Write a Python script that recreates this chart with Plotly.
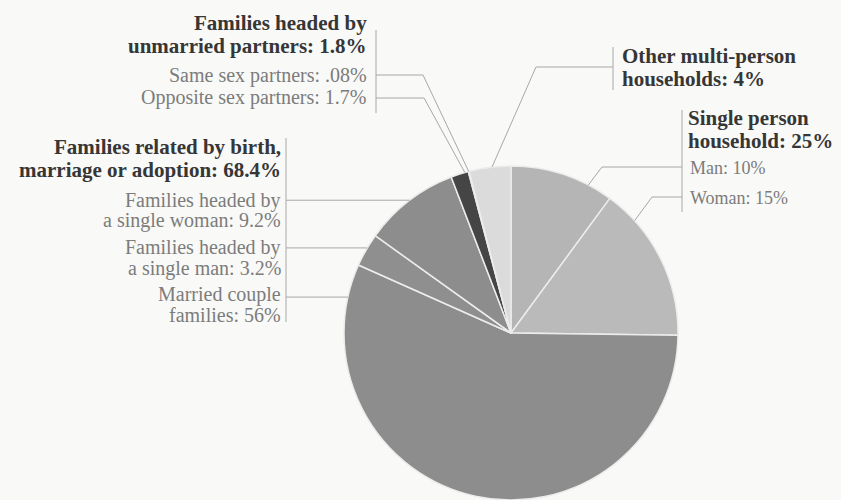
import math
import plotly.graph_objects as go

W, H = 841, 500

# ---- data (clockwise from 12 o'clock) ----
slice_names = ["Man", "Woman", "Married couple families", "Families headed by a single man",
               "Families headed by a single woman", "Opposite sex partners", "Same sex partners",
               "Other multi-person households"]
slice_values = [10, 15, 56, 3.2, 9.2, 1.7, 0.08, 4]
slice_colors = ["#b5b5b5", "#bababa", "#8d8d8d", "#8f8f8f", "#8d8d8d", "#454545", "#9a9a9a", "#dbdbdb"]

# ---- pie geometry (pixels) ----
PIE_X0, PIE_X1 = 344, 678
PIE_Y0, PIE_Y1 = 0.0, 0.668
cx = (PIE_X0 + PIE_X1) / 2
cy = H - (PIE_Y0 + PIE_Y1) / 2 * H
R = (PIE_X1 - PIE_X0) / 2

def px(x):
    return x / W

def py(y):
    return 1 - y / H

total = sum(slice_values)
starts = []
acc = 0
for v in slice_values:
    starts.append(acc)
    acc += v

def edge_point(i, t):
    frac = (starts[i] + t * slice_values[i]) / total
    a = 2 * math.pi * frac
    return cx + R * math.sin(a), cy - R * math.cos(a)

fig = go.Figure()
fig.add_trace(go.Pie(
    labels=slice_names, values=slice_values, sort=False, direction="clockwise",
    rotation=0, textinfo="none", hoverinfo="label+value",
    marker=dict(colors=slice_colors, line=dict(color="#ececec", width=1.5)),
    domain=dict(x=[px(PIE_X0), px(PIE_X1)], y=[PIE_Y0, PIE_Y1]),
    showlegend=False,
))

FONT = "Liberation Serif"
BOLD_C = "#363636"
REG_C = "#7c7c7c"
LINE_C = "#a8a8a8"
annotations = []
shapes = []

def text(x, y, s, bold, anchor, size=None):
    if bold:
        s = "<b>" + s + "</b>"
        sz = size or 21
        col = BOLD_C
    else:
        sz = size or 20
        col = REG_C
    annotations.append(dict(x=px(x), y=py(y), xref="paper", yref="paper", text=s,
                            showarrow=False, xanchor=anchor, yanchor="middle",
                            font=dict(family=FONT, size=sz, color=col)))

def poly(pts):
    path = "M " + " L ".join(f"{px(a)},{py(b)}" for a, b in pts)
    shapes.append(dict(type="path", xref="paper", yref="paper", path=path,
                       line=dict(color=LINE_C, width=1)))

def vbar(x, y0, y1):
    poly([(x, y0), (x, y1)])

# Group 1: unmarried partners
text(369, 23, "Families headed by", True, "right")
text(369, 46, "unmarried partners: 1.8%", True, "right")
text(369, 75, "Same sex partners: .08%", False, "right")
text(369, 98, "Opposite sex partners: 1.7%", False, "right")
vbar(376, 30, 113)
poly([(376, 75), (423, 75), edge_point(6, 0.5)])
poly([(376, 98), (424, 98), edge_point(5, 0.8)])

# Group 2: families related by birth
text(283, 147, "Families related by birth,", True, "right")
text(283, 170, "marriage or adoption: 68.4%", True, "right")
text(283, 200, "Families headed by", False, "right")
text(283, 221, "a single woman: 9.2%", False, "right")
text(283, 247, "Families headed by", False, "right")
text(283, 268, "a single man: 3.2%", False, "right")
text(283, 294, "Married couple", False, "right")
text(283, 315, "families: 56%", False, "right")
vbar(286, 138, 322)
p = edge_point(4, 0.51); poly([(286, p[1]), p])
p = edge_point(3, 0.57); poly([(286, p[1]), p])
p = edge_point(2, 0.943); poly([(286, p[1]), p])

# Group 3: other
text(620, 56, "Other multi-person", True, "left")
text(620, 79, "households: 4%", True, "left")
vbar(613, 47, 90)
poly([(613, 67), (536, 67), edge_point(7, 0.55)])

# Group 4: single person
text(686, 118, "Single person", True, "left")
text(686, 141, "household: 25%", True, "left")
text(688, 168, "Man: 10%", False, "left", 18)
text(688, 198, "Woman: 15%", False, "left", 18)
vbar(682, 110, 212)
poly([(682, 167), (602, 167), edge_point(0, 0.76)])
poly([(682, 197), (652, 197), edge_point(1, 0.21)])

fig.update_layout(
    width=W, height=H, margin=dict(l=0, r=0, t=0, b=0),
    paper_bgcolor="#f9f9f7", plot_bgcolor="#f9f9f7",
    annotations=annotations, shapes=shapes,
)
fig.write_html("out.html")
